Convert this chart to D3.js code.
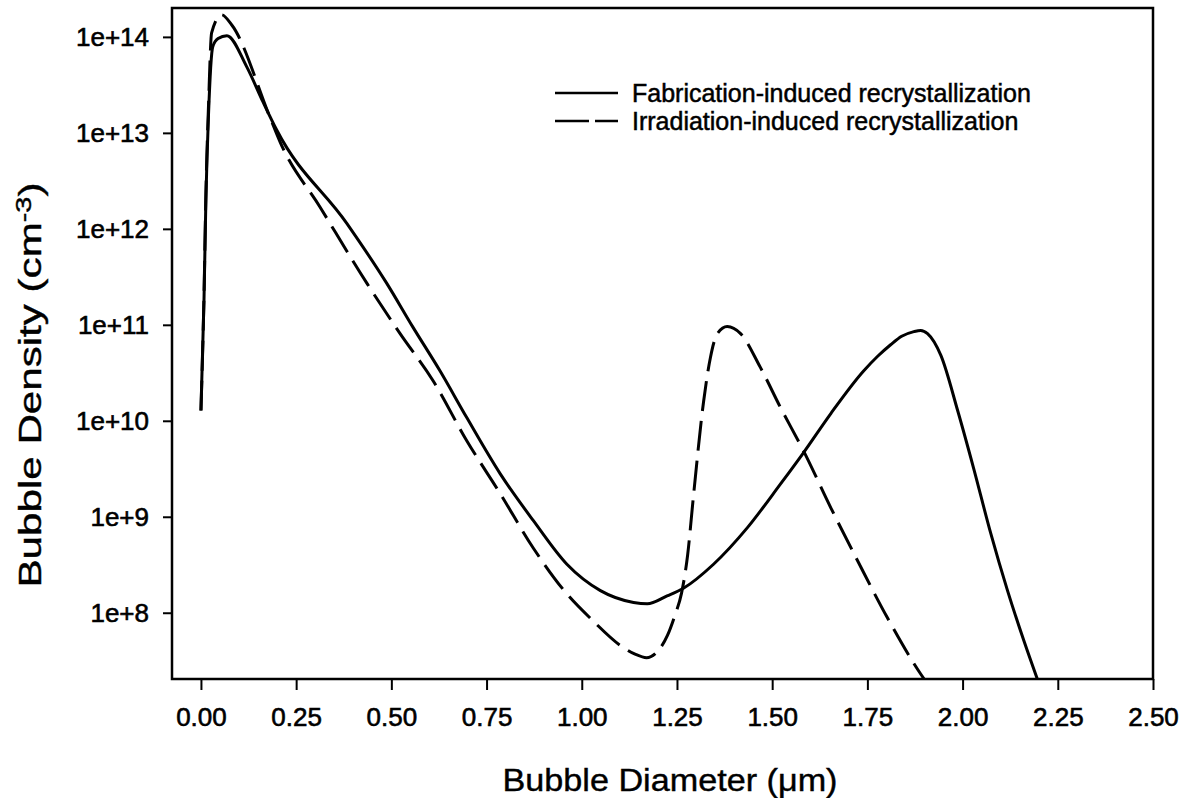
<!DOCTYPE html>
<html>
<head>
    <title>Bubble density</title>
    <style>
        body { margin: 0; background: #fff; }
        text { font-family: "Liberation Sans", Arial, sans-serif; fill: #000; }
    </style>
</head>
<body>
<svg id="chart" width="1184" height="798"></svg>

<script src="https://d3js.org/d3.v7.min.js"></script>
<script type="text/javascript">

const xTicks = [0, 0.25, 0.5, 0.75, 1.0, 1.25, 1.5, 1.75, 2.0, 2.25, 2.5];
const yTicks = [1e8, 1e9, 1e10, 1e11, 1e12, 1e13, 1e14];

// fabrication-induced recrystallization (solid)
const fabX = [0, 0.008, 0.013, 0.020, 0.031, 0.045, 0.068, 0.12, 0.163, 0.199, 0.383, 0.488, 0.557,
    0.628, 0.698, 0.786, 0.873, 0.961, 1.049, 1.136, 1.172, 1.224, 1.267, 1.346, 1.435, 1.522,
    1.583, 1.654, 1.740, 1.777, 1.811, 1.840, 1.872, 1.89, 1.908, 1.943, 1.987, 2.029, 2.074, 2.118, 2.161, 2.197];
const fabY = [1.28e10, 1.8e11, 2.0e12, 1.6e13, 7.9e13, 9.6e13, 1.03e14, 4.9e13, 2.1e13, 1.07e13, 1.14e12, 2.7e11, 9.4e10,
    3.3e10, 1.08e10, 2.8e9, 9.1e8, 3.2e8, 1.7e8, 1.28e8, 1.24e8, 1.5e8, 1.8e8, 3.2e8, 7.7e8, 2.2e9,
    4.7e9, 1.19e10, 3.3e10, 4.7e10, 6.2e10, 7.6e10, 8.5e10, 8.75e10, 8.1e10, 4.8e10, 1.28e10, 3.2e9, 6.7e8, 1.7e8, 5.1e7, 2.0e7];

// irradiation-induced recrystallization (dashed)
const irrX = [0, 0.008, 0.013, 0.020, 0.028, 0.054, 0.081, 0.181, 0.208, 0.313, 0.436, 0.523, 0.610,
    0.698, 0.786, 0.873, 0.961, 1.030, 1.100, 1.140, 1.170, 1.200, 1.225, 1.245, 1.262, 1.278, 1.293,
    1.320, 1.338, 1.356, 1.382, 1.417, 1.469, 1.522, 1.583, 1.654, 1.724, 1.803, 1.890, 1.899];
const irrY = [1.28e10, 2.0e11, 2.3e12, 2.0e13, 1.1e14, 1.7e14, 1.33e14, 1.46e13, 8.0e12, 1.68e12, 2.7e11, 8.1e10, 2.6e10,
    6.2e9, 1.74e9, 4.7e8, 1.57e8, 8.2e7, 4.6e7, 3.7e7, 3.4e7, 4.0e7, 5.8e7, 9.5e7, 1.6e8, 4.0e8, 1.6e9,
    1.6e10, 4.6e10, 8.1e10, 9.6e10, 8.1e10, 3.6e10, 1.37e10, 4.8e9, 1.24e9, 3.5e8, 8.8e7, 2.3e7, 2.04e7];

const seriesNames = ['Fabrication-induced recrystallization', 'Irradiation-induced recrystallization'];

const svg = d3.select('#chart');
const plotLeft = 172, plotRight = 1153, plotTop = 8, plotBottom = 679;

let x = d3.scaleLinear()
    .domain([-0.076, 2.5])
    .range([plotLeft, plotRight]);

let y = d3.scaleLog()
    .domain([2.04e7, 2.0e14])
    .range([plotBottom, plotTop]);

svg.append('defs').append('clipPath')
    .attr('id', 'plot-clip')
    .append('rect')
    .attr('x', plotLeft).attr('y', plotTop)
    .attr('width', plotRight - plotLeft).attr('height', plotBottom - plotTop);

// axes
svg.append('g')
    .attr('class', 'x-axis')
    .attr('transform', `translate(0, ${plotBottom})`)
    .call(d3.axisBottom(x)
        .tickValues(xTicks)
        .tickFormat(d3.format('.2f'))
        .tickSize(11)
        .tickPadding(18))
    .call(g => g.select('.domain').remove())
    .call(g => g.selectAll('.tick line').attr('stroke-width', 2))
    .call(g => g.selectAll('.tick text')
        .style('font-size', '26px')
        .style('stroke', '#000').style('stroke-width', 0.6));

svg.append('g')
    .attr('class', 'y-axis')
    .attr('transform', `translate(${plotLeft}, 0)`)
    .call(d3.axisLeft(y)
        .tickValues(yTicks)
        .tickFormat(d => '1e+' + Math.round(Math.log10(d)))
        .tickSize(9)
        .tickPadding(14))
    .call(g => g.select('.domain').remove())
    .call(g => g.selectAll('.tick line').attr('stroke-width', 2))
    .call(g => g.selectAll('.tick text')
        .style('font-size', '26px')
        .style('stroke', '#000').style('stroke-width', 0.6));

// frame
svg.append('rect')
    .attr('x', plotLeft).attr('y', plotTop)
    .attr('width', plotRight - plotLeft).attr('height', plotBottom - plotTop)
    .attr('fill', 'none')
    .attr('stroke', '#000')
    .attr('stroke-width', 2.5);

// curves
const line = d3.line()
    .x(d => x(d[0]))
    .y(d => y(d[1]))
    .curve(d3.curveMonotoneX);

const curves = svg.append('g').attr('clip-path', 'url(#plot-clip)');

curves.append('path')
    .datum(d3.zip(fabX, fabY))
    .attr('d', line)
    .attr('fill', 'none')
    .attr('stroke', '#000')
    .attr('stroke-width', 3);

curves.append('path')
    .datum(d3.zip(irrX, irrY))
    .attr('d', line)
    .attr('fill', 'none')
    .attr('stroke', '#000')
    .attr('stroke-width', 3)
    .attr('stroke-dasharray', '30,10');

// legend
const legend = svg.append('g').attr('class', 'legend');
const legendY = [93, 121];
const legendDash = [null, '34,6'];
seriesNames.forEach((name, i) => {
    legend.append('line')
        .attr('x1', 555).attr('x2', 618)
        .attr('y1', legendY[i]).attr('y2', legendY[i])
        .attr('stroke', '#000')
        .attr('stroke-width', 2.5)
        .attr('stroke-dasharray', legendDash[i]);
    legend.append('text')
        .attr('x', 632).attr('y', legendY[i])
        .attr('dy', '0.36em')
        .style('font-size', '25px')
        .style('stroke', '#000').style('stroke-width', 0.5)
        .text(name);
});

// axis titles
svg.append('text')
    .attr('x', 670)
    .attr('y', 791)
    .attr('text-anchor', 'middle')
    .attr('textLength', 335)
    .attr('lengthAdjust', 'spacingAndGlyphs')
    .style('font-size', '31px')
    .style('stroke', '#000').style('stroke-width', 0.4)
    .text('Bubble Diameter (\u03bcm)');

let yTitle = svg.append('text')
    .attr('transform', 'translate(41, 385) rotate(-90)')
    .attr('text-anchor', 'middle')
    .attr('textLength', 405)
    .attr('lengthAdjust', 'spacingAndGlyphs')
    .style('font-size', '32px')
    .style('stroke', '#000').style('stroke-width', 0.4);
yTitle.append('tspan').text('Bubble Density (cm');
yTitle.append('tspan').attr('dy', '-0.45em').style('font-size', '22px').text('-3');
yTitle.append('tspan').attr('dy', '0.3em').text(')');

</script>
</body>
</html>
